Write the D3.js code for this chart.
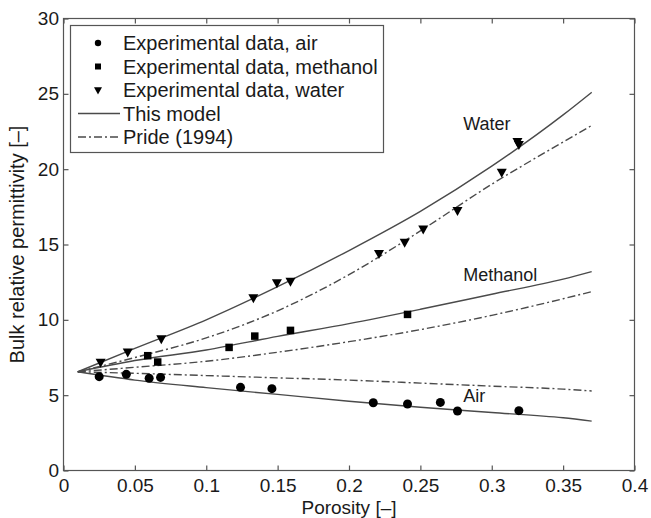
<!DOCTYPE html>
<html>
<head>
<meta charset="utf-8">
<script src="https://cdn.jsdelivr.net/npm/d3@7"></script>
<style>
  html, body { margin: 0; padding: 0; background: #fff; }
  svg { display: block; }
  text { font-family: "Liberation Sans", Arial, Helvetica, sans-serif; fill: #1a1a1a; }
</style>
</head>
<body>
<svg id="chart" width="651" height="518"></svg>
<script>
// ---- Data ----
const xTicks = [0, 0.05, 0.1, 0.15, 0.2, 0.25, 0.3, 0.35, 0.4];
const xTickLabels = ["0", "0.05", "0.1", "0.15", "0.2", "0.25", "0.3", "0.35", "0.4"];
const yTicks = [0, 5, 10, 15, 20, 25, 30];
const yTickLabels = ["0", "5", "10", "15", "20", "25", "30"];

const airPorosity = [0.025, 0.044, 0.060, 0.068, 0.124, 0.146, 0.217, 0.241, 0.264, 0.276, 0.319];
const airPermittivity = [6.23, 6.38, 6.12, 6.18, 5.52, 5.43, 4.50, 4.41, 4.52, 3.95, 3.97];

const methanolPorosity = [0.059, 0.066, 0.116, 0.134, 0.159, 0.241];
const methanolPermittivity = [7.62, 7.20, 8.17, 8.92, 9.30, 10.36];

const waterPorosity = [0.026, 0.045, 0.0685, 0.133, 0.1495, 0.159, 0.221, 0.239, 0.252, 0.276, 0.307, 0.318, 0.319];
const waterPermittivity = [7.15, 7.84, 8.71, 11.43, 12.42, 12.53, 14.37, 15.12, 16.0, 17.22, 19.76, 21.8, 21.6];

const modelPorosity = [0.01, 0.05, 0.1, 0.15, 0.2, 0.25, 0.3, 0.35, 0.37];
const modelWater    = [6.55, 8.1, 10.0, 12.2, 14.6, 17.2, 20.2, 23.6, 25.1];
const prideWater    = [6.55, 7.5, 8.8, 10.6, 13.0, 15.9, 19.0, 21.8, 22.9];
const modelMethanol = [6.55, 7.3, 8.0, 8.9, 9.75, 10.7, 11.7, 12.7, 13.2];
const prideMethanol = [6.55, 6.85, 7.25, 7.85, 8.55, 9.35, 10.3, 11.4, 11.87];
const modelAir      = [6.55, 6.0, 5.5, 5.05, 4.6, 4.2, 3.85, 3.5, 3.28];
const prideAir      = [6.55, 6.45, 6.3, 6.15, 6.0, 5.8, 5.6, 5.4, 5.28];

const legendLabels = ["Experimental data, air", "Experimental data, methanol", "Experimental data, water", "This model", "Pride (1994)"];
const curveLabels = ["Water", "Methanol", "Air"];
const curveLabelPos = [[0.28, 22.6], [0.28, 12.6], [0.28, 4.55]];

// ---- Layout ----
const svg = d3.select("#chart");
const L = 63.5, R = 634.5, T = 18.5, B = 470.5;
const x = d3.scaleLinear().domain([0, 0.4]).range([L, R]);
const y = d3.scaleLinear().domain([0, 30]).range([B, T]);
const axisColor = "#555";
const lineColor = "#4a4a4a";
const fsTick = 19, fsTitle = 19, fsLegend = 20, fsCurve = 18;

// frame
svg.append("rect").attr("x", L).attr("y", T).attr("width", R - L).attr("height", B - T)
  .attr("fill", "none").attr("stroke", axisColor).attr("stroke-width", 1.2);

// ticks via axes (inward)
const tickLen = 5;
const gB = svg.append("g").attr("transform", `translate(0,${B})`)
  .call(d3.axisBottom(x).tickValues(xTicks).tickSize(-tickLen).tickPadding(8.5)
    .tickFormat((d, i) => xTickLabels[i]));
const gT = svg.append("g").attr("transform", `translate(0,${T})`)
  .call(d3.axisTop(x).tickValues(xTicks).tickSize(-tickLen).tickFormat(""));
const gL = svg.append("g").attr("transform", `translate(${L},0)`)
  .call(d3.axisLeft(y).tickValues(yTicks).tickSize(-tickLen).tickPadding(4.5)
    .tickFormat((d, i) => yTickLabels[i]));
const gR = svg.append("g").attr("transform", `translate(${R},0)`)
  .call(d3.axisRight(y).tickValues(yTicks).tickSize(-tickLen).tickFormat(""));
[gB, gT, gL, gR].forEach(g => {
  g.select(".domain").remove();
  g.selectAll(".tick line").attr("stroke", axisColor).attr("stroke-width", 1.2);
  g.selectAll(".tick text").attr("font-size", fsTick).attr("fill", "#1a1a1a")
    .attr("font-family", "'Liberation Sans', Arial, sans-serif");
});

// axis titles
svg.append("text").attr("x", (L + R) / 2).attr("y", 514).attr("text-anchor", "middle")
  .attr("font-size", fsTitle).text("Porosity [–]");
svg.append("text").attr("transform", `translate(24,${(T + B) / 2}) rotate(-90)`)
  .attr("text-anchor", "middle").attr("font-size", 20).text("Bulk relative permittivity [–]");

// curves
const line = d3.line().x(d => x(d[0])).y(d => y(d[1])).curve(d3.curveMonotoneX);
const curves = [
  [modelWater, null], [prideWater, "8,3,2,3"],
  [modelMethanol, null], [prideMethanol, "8,3,2,3"],
  [modelAir, null], [prideAir, "8,3,2,3"]
];
curves.forEach(([vals, dash]) => {
  svg.append("path").datum(modelPorosity.map((p, i) => [p, vals[i]]))
    .attr("d", line).attr("fill", "none").attr("stroke", lineColor)
    .attr("stroke-width", 1.4).attr("stroke-dasharray", dash);
});

// markers
const circle = (g, cx, cy, r) => g.append("circle").attr("cx", cx).attr("cy", cy).attr("r", r).attr("fill", "#000");
const square = (g, cx, cy, s) => g.append("rect").attr("x", cx - s / 2).attr("y", cy - s / 2).attr("width", s).attr("height", s).attr("fill", "#000");
const tri = (g, cx, cy, s) => g.append("path")
  .attr("d", `M${cx - s / 2},${cy - s * 0.4} L${cx + s / 2},${cy - s * 0.4} L${cx},${cy + s * 0.5} Z`).attr("fill", "#000");

const gm = svg.append("g");
airPorosity.forEach((p, i) => circle(gm, x(p), y(airPermittivity[i]), 4.5));
methanolPorosity.forEach((p, i) => square(gm, x(p), y(methanolPermittivity[i]), 7.5));
waterPorosity.forEach((p, i) => tri(gm, x(p), y(waterPermittivity[i]), 10));

// curve labels
curveLabels.forEach((t, i) => {
  svg.append("text").attr("x", x(curveLabelPos[i][0])).attr("y", y(curveLabelPos[i][1]))
    .attr("font-size", fsCurve).text(t);
});

// legend
const lg = svg.append("g");
lg.append("rect").attr("x", 70.5).attr("y", 25.5).attr("width", 313).attr("height", 127)
  .attr("fill", "#fff").attr("stroke", axisColor).attr("stroke-width", 1.2);
const rowY = [43, 66.5, 90, 113.5, 137];
legendLabels.forEach((t, i) => {
  lg.append("text").attr("x", 123).attr("y", rowY[i]).attr("dy", "0.36em")
    .attr("font-size", fsLegend).text(t);
});
circle(lg, 98, rowY[0], 3.2);
square(lg, 98, rowY[1], 6);
tri(lg, 98, rowY[2] + 0.5, 8);
lg.append("line").attr("x1", 78).attr("x2", 120).attr("y1", rowY[3]).attr("y2", rowY[3])
  .attr("stroke", lineColor).attr("stroke-width", 1.4);
lg.append("line").attr("x1", 78).attr("x2", 120).attr("y1", rowY[4]).attr("y2", rowY[4])
  .attr("stroke", lineColor).attr("stroke-width", 1.4).attr("stroke-dasharray", "8,3,2,3");
</script>
</body>
</html>
